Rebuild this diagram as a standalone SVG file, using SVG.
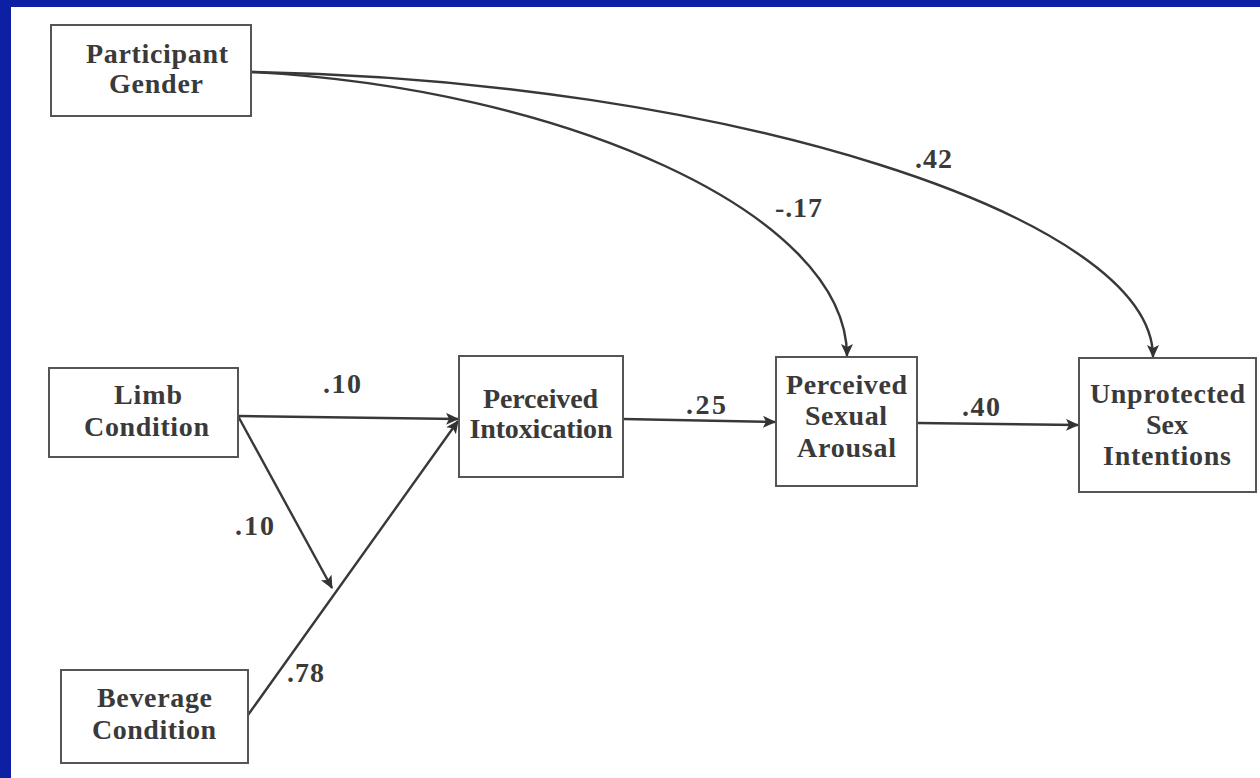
<svg xmlns="http://www.w3.org/2000/svg" width="1260" height="778" viewBox="0 0 1260 778">
  <defs>
    <marker id="arr" markerUnits="userSpaceOnUse" markerWidth="14" markerHeight="12" refX="12" refY="6" orient="auto">
      <path d="M0,0 L13,6 L0,12 L3,6 z" fill="#333"/>
    </marker>
    <style>
      .box { fill: #ffffff; stroke: #555; stroke-width: 2; }
      .lbl { font-family: "Liberation Serif", "Times New Roman", serif; font-weight: bold; font-size: 28px; fill: #3a3a3a; text-anchor: middle; }
      .coef { font-family: "Liberation Serif", "Times New Roman", serif; font-weight: bold; font-size: 28px; fill: #3a3a3a; }
      .conn { fill: none; stroke: #383838; stroke-width: 2.4; }
    </style>
  </defs>

  <!-- background -->
  <rect x="0" y="0" width="1260" height="778" fill="#0d1fa3"/>
  <rect x="11" y="7" width="1249" height="771" fill="#ffffff"/>

  <g id="connectors">
    <path class="conn" d="M252,72 C560,88 847,212 847,356" marker-end="url(#arr)"/>
    <path class="conn" d="M252,72 C720,80 1153,215 1153,357" marker-end="url(#arr)"/>
    <path class="conn" d="M238,416 L458,419" marker-end="url(#arr)"/>
    <path class="conn" d="M238,416 L332,588" marker-end="url(#arr)"/>
    <path class="conn" d="M248,715 L458,421" marker-end="url(#arr)"/>
    <path class="conn" d="M623,419 L775,422" marker-end="url(#arr)"/>
    <path class="conn" d="M917,423 L1078,425" marker-end="url(#arr)"/>
    <text class="coef" x="915" y="168" textLength="37">.42</text>
    <text class="coef" x="775" y="217" textLength="47">-.17</text>
    <text class="coef" x="323" y="393" textLength="38">.10</text>
    <text class="coef" x="235" y="535" textLength="39">.10</text>
    <text class="coef" x="287" y="682" textLength="37">.78</text>
    <text class="coef" x="686" y="414" textLength="40">.25</text>
    <text class="coef" x="962" y="416" textLength="38">.40</text>
  </g>

  <g id="participant-gender">
    <rect class="box" x="51" y="25" width="200" height="91"/>
    <text class="lbl" x="157" y="63" textLength="142">Participant</text>
    <text class="lbl" x="156" y="93" textLength="94">Gender</text>
  </g>

  <g id="limb-condition">
    <rect class="box" x="49" y="368" width="189" height="89"/>
    <text class="lbl" x="148" y="404" textLength="68">Limb</text>
    <text class="lbl" x="146.5" y="436" textLength="125">Condition</text>
  </g>

  <g id="beverage-condition">
    <rect class="box" x="61" y="670" width="187" height="93"/>
    <text class="lbl" x="154.5" y="707" textLength="115">Beverage</text>
    <text class="lbl" x="154" y="739" textLength="124">Condition</text>
  </g>

  <g id="perceived-intoxication">
    <rect class="box" x="459" y="356" width="164" height="121"/>
    <text class="lbl" x="540.5" y="408" textLength="115">Perceived</text>
    <text class="lbl" x="541" y="438" textLength="143">Intoxication</text>
  </g>

  <g id="perceived-sexual-arousal">
    <rect class="box" x="776" y="357" width="141" height="129"/>
    <text class="lbl" x="846.5" y="394" textLength="121">Perceived</text>
    <text class="lbl" x="846" y="425" textLength="82">Sexual</text>
    <text class="lbl" x="846.5" y="457" textLength="99">Arousal</text>
  </g>

  <g id="unprotected-sex-intentions">
    <rect class="box" x="1079" y="358" width="177" height="134"/>
    <text class="lbl" x="1167.5" y="403" textLength="155">Unprotected</text>
    <text class="lbl" x="1167" y="434" textLength="42">Sex</text>
    <text class="lbl" x="1167" y="465" textLength="128">Intentions</text>
  </g>
</svg>
